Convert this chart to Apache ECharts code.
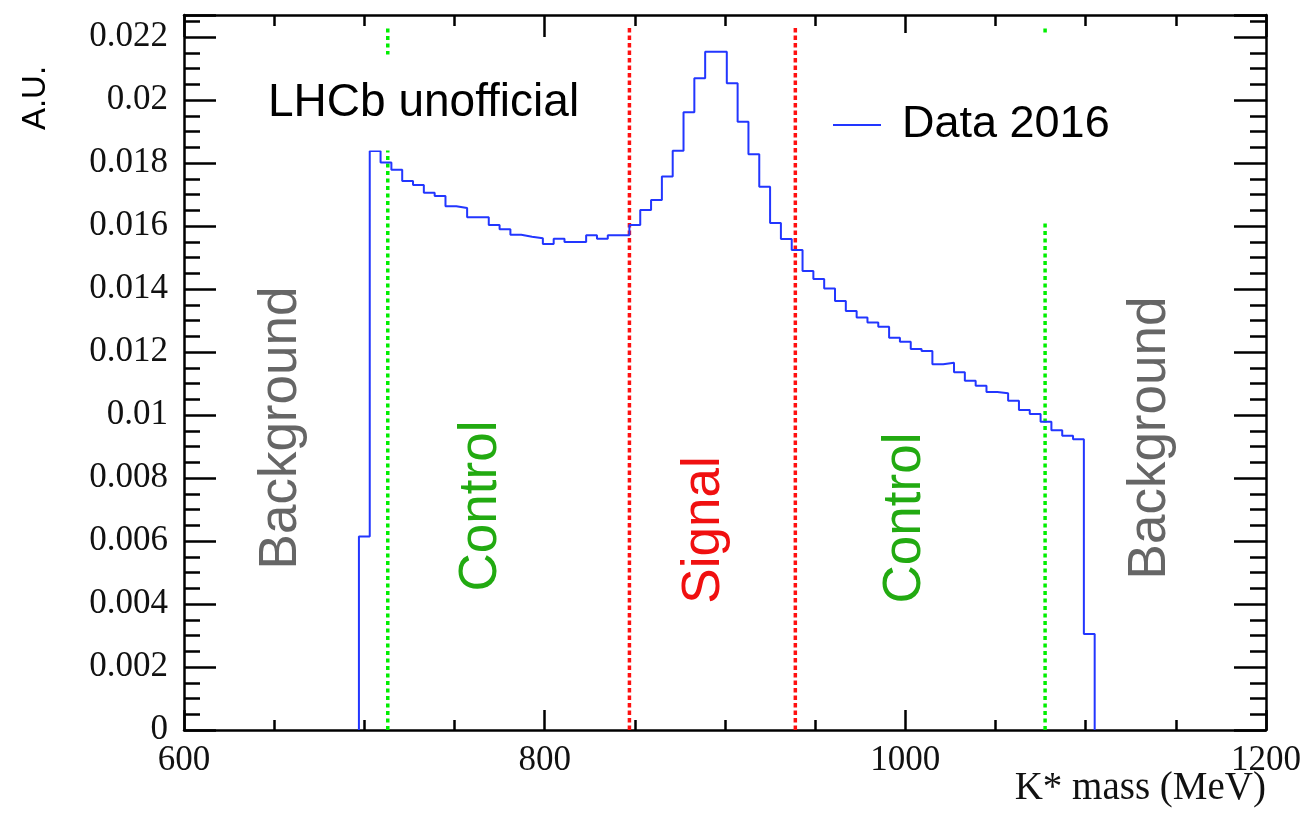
<!DOCTYPE html>
<html>
<head>
<meta charset="utf-8">
<script src="https://cdn.jsdelivr.net/npm/echarts@6/dist/echarts.min.js"></script>
<style>
html,body{margin:0;padding:0;background:#fff;}
#chart{width:1307px;height:813px;}
</style>
</head>
<body>
<div id="chart"></div>
<script>
// Histogram binning (MeV)
const binLowEdge = 697;
const binWidth = 6;
// Bin contents (A.U.)
const binValues = [
  0.00614, 0.01838, 0.01802, 0.01779, 0.01743, 0.01730, 0.01706, 0.01695, 0.01663, 0.01657,
  0.01628, 0.01628, 0.01603, 0.01590, 0.01572, 0.01566, 0.01561, 0.01543, 0.01560, 0.01549,
  0.01549, 0.01571, 0.01560, 0.01571, 0.01571, 0.01603, 0.01651, 0.01683, 0.01757, 0.01839,
  0.01961, 0.02069, 0.02153, 0.02153, 0.02053, 0.01931, 0.01828, 0.01725, 0.01610, 0.01559,
  0.01524, 0.01457, 0.01432, 0.01402, 0.01362, 0.01330, 0.01310, 0.01294, 0.01280, 0.01245,
  0.01233, 0.01210, 0.01203, 0.01161, 0.01166, 0.01136, 0.01109, 0.01093, 0.01073, 0.01069,
  0.01045, 0.01016, 0.01003, 0.00979, 0.00952, 0.00934, 0.00923, 0.00305
];
// Region boundaries (MeV)
const controlLines = [713, 1077.5];
const signalLines = [847, 939];
const lineTop = 0.0223;
// Region labels
const regionLabels = ['Background', 'Control', 'Signal', 'Control', 'Background'];
const seriesName = 'Data 2016';

// Build step outline from bin edges
const histPoints = [];
histPoints.push([binLowEdge, 0]);
for (let i = 0; i < binValues.length; i++) {
  const lo = binLowEdge + i * binWidth, hi = lo + binWidth;
  histPoints.push([lo, binValues[i]]);
  histPoints.push([hi, binValues[i]]);
}
histPoints.push([binLowEdge + binValues.length * binWidth, 0]);

function vline(x, color, dash) {
  return {
    type: 'line', data: [[x, 0], [x, lineTop]], symbol: 'none', silent: true,
    lineStyle: { color: color, width: 3.5, type: dash }, z: 1
  };
}

const serif = '"Liberation Serif", "Times New Roman", serif';
const sans = '"Liberation Sans", Arial, Helvetica, sans-serif';

const xCommon = {
  type: 'value', min: 600, max: 1200, interval: 200,
  axisLine: { show: true, onZero: false, lineStyle: { color: '#000', width: 2.5 } },
  splitLine: { show: false }
};
const yCommon = {
  type: 'value', min: 0, max: 0.0227, interval: 0.002,
  axisLine: { show: true, onZero: false, lineStyle: { color: '#000', width: 2.5 } },
  splitLine: { show: false }
};

const chart = echarts.init(document.getElementById('chart'), null, { renderer: 'canvas' });
function rotText(text, x, y, color) {
  return {
    type: 'text', x: x, y: y, rotation: Math.PI / 2, z: 50,
    style: {
      text: text, fill: color, font: '53px ' + sans,
      align: 'center', verticalAlign: 'middle',
      textAlign: 'center', textVerticalAlign: 'middle'
    }
  };
}
chart.setOption({
  animation: false,
  backgroundColor: '#fff',
  grid: { left: 184, right: 41, top: 15, bottom: 83, containLabel: false },
  title: {
    text: 'LHCb unofficial', left: 248, top: 55,
    padding: [26, 20, 24, 20], backgroundColor: '#fff',
    textStyle: { fontSize: 46, fontFamily: sans, fontWeight: 'normal', color: '#000', lineHeight: 45 }
  },
  legend: {
    data: [seriesName], left: 805, top: 33, orient: 'vertical',
    padding: [69, 20, 75, 28], backgroundColor: '#fff',
    icon: 'rect', itemWidth: 48, itemHeight: 2,
    textStyle: { fontSize: 45, fontFamily: sans, color: '#000', lineHeight: 46, padding: [0, 0, 0, 16] }
  },
  xAxis: [
    Object.assign({}, xCommon, {
      position: 'bottom',
      axisTick: { show: true, inside: true, length: 20, lineStyle: { color: '#000', width: 2.5 } },
      minorTick: { show: true, splitNumber: 4, length: 10, lineStyle: { color: '#000', width: 2.5 } },
      axisLabel: { show: true, margin: 13, fontSize: 35, fontFamily: serif, color: '#111', formatter: v => String(v) }
    }),
    Object.assign({}, xCommon, {
      position: 'top',
      axisTick: { show: true, inside: true, length: 22, lineStyle: { color: '#000', width: 2.5 } },
      minorTick: { show: true, splitNumber: 4, length: 11, lineStyle: { color: '#000', width: 2.5 } },
      axisLabel: { show: false }
    })
  ],
  yAxis: [
    Object.assign({}, yCommon, {
      position: 'left',
      axisTick: { show: true, inside: true, length: 32, lineStyle: { color: '#000', width: 2.5 } },
      minorTick: { show: true, splitNumber: 4, length: 16, lineStyle: { color: '#000', width: 2.5 } },
      axisLabel: {
        show: true, margin: 16, fontSize: 35, fontFamily: serif, color: '#111', showMaxLabel: false,
        formatter: v => String(+v.toFixed(4))
      }
    }),
    Object.assign({}, yCommon, {
      position: 'right',
      axisTick: { show: true, inside: true, length: 32, lineStyle: { color: '#000', width: 2.5 } },
      minorTick: { show: true, splitNumber: 4, length: 16, lineStyle: { color: '#000', width: 2.5 } },
      axisLabel: { show: false }
    })
  ],
  series: [
    vline(controlLines[0], '#00ee00', [4, 3.5]),
    vline(controlLines[1], '#00ee00', [4, 3.5]),
    vline(signalLines[0], '#ff1010', [4.5, 3]),
    vline(signalLines[1], '#ff1010', [4.5, 3]),
    {
      name: seriesName, type: 'line', data: histPoints, symbol: 'none', silent: true,
      lineStyle: { color: '#2236ff', width: 2 }, itemStyle: { color: '#2236ff' }, z: 3
    }
  ],
  graphic: [
    {
      type: 'text', x: 36, y: 98, rotation: Math.PI / 2, z: 50,
      style: { text: 'A.U.', fill: '#000', font: '33px ' + sans, align: 'center', verticalAlign: 'middle', textAlign: 'center', textVerticalAlign: 'middle' }
    },
    {
      type: 'text', x: 1266, y: 789, z: 50,
      style: { text: 'K* mass (MeV)', fill: '#111', font: '39px ' + serif, align: 'right', verticalAlign: 'middle', textAlign: 'right', textVerticalAlign: 'middle' }
    },
    rotText(regionLabels[0], 281, 428, '#666666'),
    rotText(regionLabels[1], 481, 506, '#22aa11'),
    rotText(regionLabels[2], 704, 530, '#f01010'),
    rotText(regionLabels[3], 905, 518, '#22aa11'),
    rotText(regionLabels[4], 1150, 438, '#666666')
  ]
});
</script>
</body>
</html>
